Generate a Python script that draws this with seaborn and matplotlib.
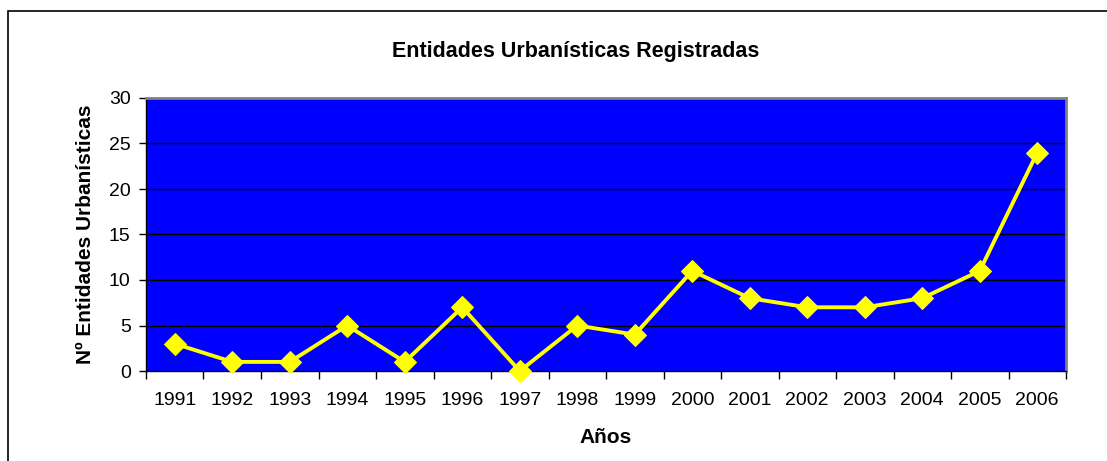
import numpy as np
import pandas as pd
import matplotlib
matplotlib.use("Agg")
import matplotlib.pyplot as plt
import seaborn as sns
from matplotlib.patches import Rectangle

years = ["1991", "1992", "1993", "1994", "1995", "1996", "1997", "1998",
         "1999", "2000", "2001", "2002", "2003", "2004", "2005", "2006"]
entidades = [3, 1, 1, 5, 1, 7, 0, 5, 4, 11, 8, 7, 7, 8, 11, 24]
y_ticks = [0, 5, 10, 15, 20, 25, 30]

df = pd.DataFrame({"Año": years, "Entidades": entidades})

sns.set_theme(style="white")
plt.rcParams["font.family"] = ["Liberation Sans", "DejaVu Sans"]
plt.rcParams["text.color"] = "black"
plt.rcParams["axes.labelcolor"] = "black"
plt.rcParams["xtick.color"] = "black"
plt.rcParams["ytick.color"] = "black"

fig = plt.figure(figsize=(11.07, 4.61), dpi=100)
ax = fig.add_axes([146 / 1107, 90 / 461, 920 / 1107, 273 / 461])
ax.set_facecolor("#0000FF")

# outer chart frame (runs off the bottom/right of the image)
fig.patches.append(Rectangle((8 / 1107, -0.1), 1.2, 1.1 - 11 / 461,
                             transform=fig.transFigure, fill=False,
                             edgecolor="black", linewidth=1.2))

sns.lineplot(data=df, x="Año", y="Entidades", ax=ax, color="#FFFF00",
             linewidth=2.8, marker="D", markersize=11.5, markeredgecolor="#FFFF00",
             clip_on=False, zorder=5)

ax.set_xlim(-0.5, len(years) - 0.5)
ax.set_ylim(0, 30)
ax.set_yticks(y_ticks)
ax.set_xticks(range(len(years)))
ax.set_xticklabels(years)
ax.set_xticks(np.arange(-0.5, len(years), 1.0), minor=True)

for y in y_ticks[1:-1]:
    ax.axhline(y, color="black", linewidth=1.0, zorder=1)

ax.tick_params(axis="x", which="major", length=0, pad=15, labelsize=14)
ax.tick_params(axis="x", which="minor", length=6, width=1, color="black",
               direction="out", bottom=True)
ax.tick_params(axis="y", length=5, width=1, color="black", direction="out", pad=6,
               labelsize=14, left=True)

for side in ["top", "right"]:
    ax.spines[side].set_color("#808080")
    ax.spines[side].set_linewidth(2)
for side in ["left", "bottom"]:
    ax.spines[side].set_color("black")
    ax.spines[side].set_linewidth(1)

ax.set_xlabel("Años", fontsize=15, fontweight="bold", labelpad=14)
ax.set_ylabel("Nº Entidades Urbanísticas", fontsize=15, fontweight="bold", labelpad=10)
fig.text(576 / 1107, 1 - 52 / 461, "Entidades Urbanísticas Registradas",
         ha="center", va="center", fontsize=15.5, fontweight="bold")

fig.savefig("out.png", dpi=100)
